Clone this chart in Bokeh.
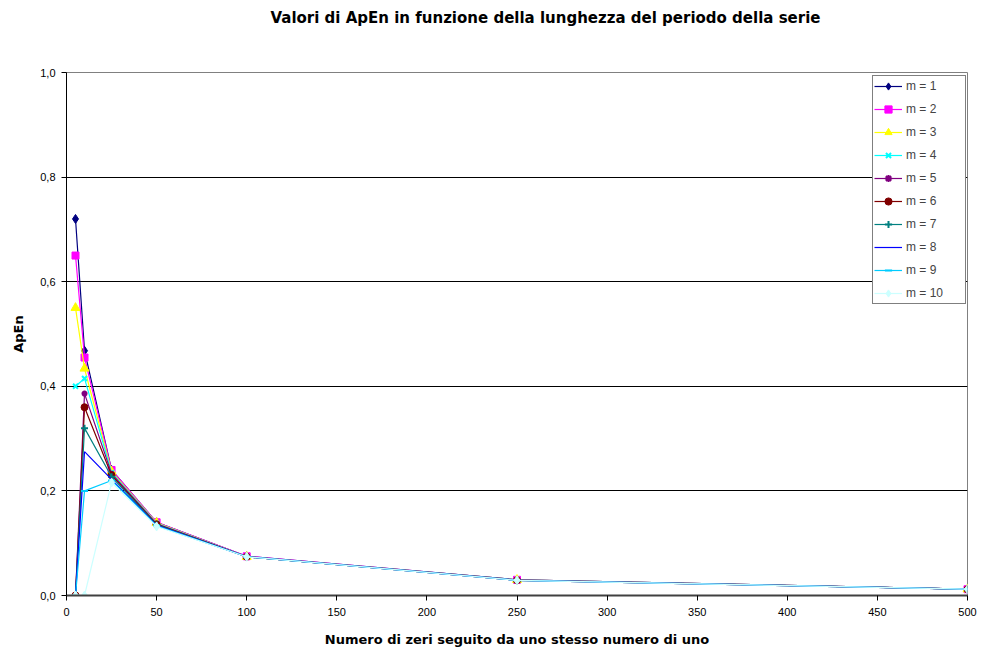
from bokeh.plotting import figure
from bokeh.models import (Legend, LegendItem, FixedTicker, Title,
                          CustomJSTickFormatter, Range1d)
from bokeh.embed import file_html
from bokeh.resources import INLINE

# Period length of the series (number of zeros followed by as many ones)
periods = [5, 10, 25, 50, 100, 250, 500]

# ApEn values for each embedding dimension m
apen_m1 = [0.720, 0.468, 0.240, 0.140, 0.075, 0.030, 0.012]
apen_m2 = [0.650, 0.455, 0.240, 0.140, 0.075, 0.030, 0.012]
apen_m3 = [0.550, 0.434, 0.237, 0.139, 0.074, 0.030, 0.012]
apen_m4 = [0.400, 0.415, 0.235, 0.138, 0.074, 0.030, 0.012]
apen_m5 = [0.000, 0.386, 0.233, 0.137, 0.074, 0.030, 0.012]
apen_m6 = [0.000, 0.360, 0.230, 0.136, 0.074, 0.029, 0.012]
apen_m7 = [0.000, 0.320, 0.227, 0.135, 0.074, 0.029, 0.012]
apen_m8 = [0.000, 0.275, 0.222, 0.134, 0.074, 0.029, 0.012]
apen_m9 = [0.000, 0.200, 0.220, 0.133, 0.074, 0.029, 0.012]
apen_m10 = [0.000, 0.000, 0.216, 0.132, 0.074, 0.029, 0.012]

series_labels = ["m = 1", "m = 2", "m = 3", "m = 4", "m = 5",
                 "m = 6", "m = 7", "m = 8", "m = 9", "m = 10"]
series_values = [apen_m1, apen_m2, apen_m3, apen_m4, apen_m5,
                 apen_m6, apen_m7, apen_m8, apen_m9, apen_m10]

x_ticks = [0, 50, 100, 150, 200, 250, 300, 350, 400, 450, 500]
y_ticks = [0.0, 0.2, 0.4, 0.6, 0.8, 1.0]

colors = ["#000080", "#FF00FF", "#FFFF00", "#00FFFF", "#800080",
          "#800000", "#008080", "#0000FF", "#00CCFF", "#CCFFFF"]
markers = ["diamond", "square", "triangle", "x", "asterisk",
           "circle", "cross", None, "dash", "diamond"]
msizes = [9, 7, 9, 7, 6, 7, 7, 0, 7, 9]

FONT = "Liberation Sans"
BOLD_FONT = "DejaVu Sans"

p = figure(width=983, height=653, output_backend="svg", toolbar_location=None,
           x_range=Range1d(0, 500), y_range=Range1d(0, 1),
           min_border_left=66, min_border_right=16,
           min_border_top=72, min_border_bottom=58,
           title="Valori di ApEn in funzione della lunghezza del periodo della serie")
p.background_fill_color = "white"
p.border_fill_color = "white"
p.outline_line_color = "#808080"
p.outline_line_width = 1

p.title.align = "left"
p.title.offset = 204
p.title.standoff = 10
p.title.text_font = BOLD_FONT
p.title.text_font_style = "bold"
p.title.text_font_size = "15px"
p.title.text_color = "black"

# empty band between the title and the plotting area
gap = Title(text=" ", text_font_size="1px", standoff=38)
p.add_layout(gap, "above")

items = []
for lab, vals, col, mk, ms in zip(series_labels, series_values, colors, markers, msizes):
    rs = [p.line(periods, vals, line_color=col, line_width=1.2)]
    if mk is not None:
        rs.append(p.scatter(periods, vals, marker=mk, size=ms,
                            fill_color=col, line_color=col,
                            line_width=2 if mk in ("dash", "x", "cross", "asterisk") else 1))
    items.append(LegendItem(label=lab, renderers=rs))

# axes
p.xaxis.ticker = FixedTicker(ticks=x_ticks)
p.yaxis.ticker = FixedTicker(ticks=y_ticks)
p.yaxis.formatter = CustomJSTickFormatter(code="return tick.toFixed(1).replace('.', ',');")
p.xaxis.formatter = CustomJSTickFormatter(code="return tick.toFixed(0);")
for ax in (p.xaxis, p.yaxis):
    ax.major_label_text_font = FONT
    ax.major_label_text_font_size = "11px"
    ax.major_label_text_color = "black"
    ax.major_tick_out = 5
    ax.major_tick_in = 0
    ax.minor_tick_out = 0
    ax.minor_tick_in = 0
    ax.major_tick_line_color = "black"
    ax.axis_label_text_font = BOLD_FONT
    ax.axis_label_text_font_style = "bold"
    ax.axis_label_text_font_size = "13px"
    ax.axis_label_text_color = "black"
p.yaxis.axis_line_color = "black"
p.xaxis.axis_line_color = "#404040"
p.xaxis.axis_line_width = 2
p.yaxis.major_label_standoff = 6
p.xaxis.major_label_standoff = 7
p.xaxis.axis_label = "Numero di zeri seguito da uno stesso numero di uno"
p.yaxis.axis_label = "ApEn"
p.xaxis.axis_label_standoff = 13
p.yaxis.axis_label_standoff = 11

# horizontal gridlines only
p.xgrid.visible = False
p.ygrid.ticker = FixedTicker(ticks=[0.2, 0.4, 0.6, 0.8])
p.ygrid.grid_line_color = "black"
p.ygrid.grid_line_width = 1

legend = Legend(items=items, location=(806, 291),
                label_text_font=FONT, label_text_font_size="12px",
                glyph_width=28, glyph_height=18, label_height=18,
                spacing=5, padding=1, margin=0, label_standoff=4,
                label_width=58,
                border_line_color="black", border_line_width=1,
                background_fill_color="white", background_fill_alpha=1)
p.add_layout(legend, "center")

open("out.html", "w").write(file_html(p, INLINE))
